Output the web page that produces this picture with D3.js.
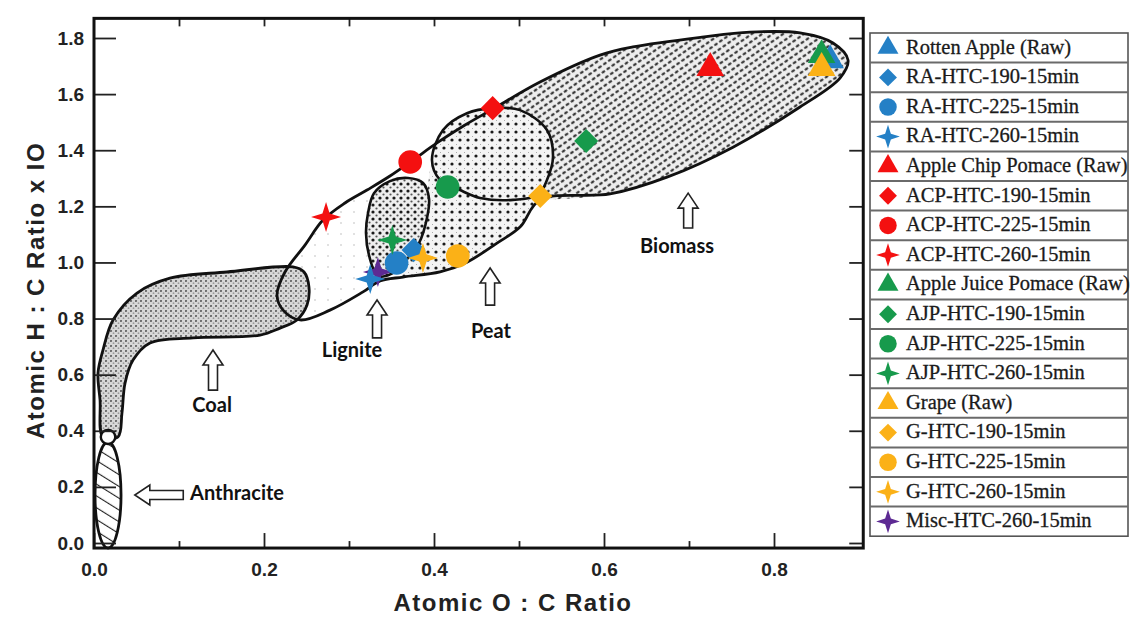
<!DOCTYPE html>
<html>
<head>
<meta charset="utf-8">
<script src="https://cdn.jsdelivr.net/npm/d3@7"></script>
<style>
  body { margin: 0; background: #fff; }
</style>
</head>
<body>
<svg id="chart" width="1132" height="619"></svg>
<script>
// series (O:C, H:C)
const seriesNames = [
  "Rotten Apple (Raw)", "RA-HTC-190-15min", "RA-HTC-225-15min", "RA-HTC-260-15min",
  "Apple Chip Pomace (Raw)", "ACP-HTC-190-15min", "ACP-HTC-225-15min", "ACP-HTC-260-15min",
  "Apple Juice Pomace (Raw)", "AJP-HTC-190-15min", "AJP-HTC-225-15min", "AJP-HTC-260-15min",
  "Grape (Raw)", "G-HTC-190-15min", "G-HTC-225-15min", "G-HTC-260-15min",
  "Misc-HTC-260-15min"
]
const seriesColors = [
  "#2480c6", "#2480c6", "#2480c6", "#2480c6",
  "#f41010", "#f41010", "#f41010", "#f41010",
  "#179a4c", "#179a4c", "#179a4c", "#179a4c",
  "#fbb117", "#fbb117", "#fbb117", "#fbb117",
  "#5d2a93"
]
const seriesShapes = [
  "triangle", "diamond", "circle", "star",
  "triangle", "diamond", "circle", "star",
  "triangle", "diamond", "circle", "star",
  "triangle", "diamond", "circle", "star",
  "star"
]
const ocRatio = [0.866, 0.376, 0.356, 0.325, 0.725, 0.469, 0.372, 0.273, 0.856, 0.579, 0.416, 0.351, 0.856, 0.525, 0.428, 0.387, 0.334]
const hcRatio = [1.721, 1.044, 0.998, 0.941, 1.693, 1.550, 1.358, 1.162, 1.739, 1.433, 1.269, 1.080, 1.693, 1.237, 1.023, 1.016, 0.966]

const xTicks = [0, 0.2, 0.4, 0.6, 0.8]
const yTicks = [0, 0.2, 0.4, 0.6, 0.8, 1.0, 1.2, 1.4, 1.6, 1.8]

// Van Krevelen region outlines, in (O:C, H:C)
const envelopeOutline = [
  [0.2247, 0.966], [0.2482, 1.062], [0.2694, 1.151], [0.2953, 1.212], [0.3212, 1.258],
  [0.3482, 1.308], [0.3753, 1.365], [0.4035, 1.426], [0.4365, 1.490], [0.4694, 1.547],
  [0.5247, 1.643], [0.5953, 1.739], [0.6341, 1.768], [0.7153, 1.803], [0.7718, 1.821],
  [0.8306, 1.818], [0.8694, 1.782], [0.8871, 1.721], [0.8776, 1.657], [0.8306, 1.554],
  [0.7518, 1.411], [0.6741, 1.304], [0.6071, 1.244], [0.5247, 1.223], [0.5012, 1.126],
  [0.4741, 1.069], [0.4388, 1.001], [0.4071, 0.966], [0.3635, 0.948], [0.3365, 0.934],
  [0.3165, 0.895], [0.2776, 0.830], [0.2424, 0.795], [0.2224, 0.830], [0.2153, 0.884]
]
const biomassOutline = [
  [0.4035, 1.401], [0.4365, 1.490], [0.4694, 1.547], [0.5247, 1.643], [0.5953, 1.739],
  [0.6341, 1.768], [0.7153, 1.803], [0.7718, 1.821], [0.8306, 1.818], [0.8694, 1.782],
  [0.8871, 1.721], [0.8776, 1.657], [0.8306, 1.554], [0.7518, 1.411], [0.6741, 1.304],
  [0.6071, 1.244], [0.5247, 1.223], [0.4541, 1.223], [0.4129, 1.276]
]
const peatOutline = [
  [0.3976, 1.365], [0.4106, 1.472], [0.4388, 1.532], [0.4694, 1.550], [0.5012, 1.543],
  [0.5329, 1.472], [0.5400, 1.376], [0.5329, 1.294], [0.5224, 1.237], [0.5012, 1.126],
  [0.4741, 1.069], [0.4388, 1.001], [0.4071, 0.966], [0.3635, 0.952], [0.3482, 0.980],
  [0.3753, 1.044], [0.3859, 1.098], [0.3929, 1.176], [0.3929, 1.258]
]
const peatLoop = [
  [0.3976, 1.365], [0.4106, 1.472], [0.4388, 1.532], [0.4694, 1.550], [0.5012, 1.543],
  [0.5329, 1.472], [0.5400, 1.376], [0.5329, 1.294], [0.5224, 1.241], [0.4929, 1.223],
  [0.4541, 1.230], [0.4306, 1.258], [0.4071, 1.294]
]
const ligniteLoop = [
  [0.3224, 1.176], [0.3294, 1.247], [0.3482, 1.290], [0.3694, 1.301], [0.3871, 1.283],
  [0.3941, 1.228], [0.3918, 1.159], [0.3824, 1.069], [0.3694, 1.016], [0.3541, 0.966],
  [0.3341, 0.952], [0.3235, 1.026], [0.3200, 1.105]
]
const coalOutline = [
  [0.0106, 0.378], [0.0071, 0.510], [0.0047, 0.606], [0.0106, 0.688], [0.0224, 0.795],
  [0.0506, 0.891], [0.0894, 0.944], [0.1565, 0.966], [0.2341, 0.984], [0.2471, 0.966],
  [0.2529, 0.912], [0.2506, 0.848], [0.2388, 0.795], [0.2188, 0.766], [0.1953, 0.741],
  [0.1165, 0.731], [0.0659, 0.713], [0.0459, 0.652], [0.0365, 0.570], [0.0329, 0.463],
  [0.0282, 0.378]
]
const anthracite = { cx: 0.0165, cy: 0.171, rx: 0.0153, ry: 0.189 }
const anthraciteCap = { cx: 0.0165, cy: 0.378, rx: 0.0085, ry: 0.025 }

const regionLabels = ["Biomass", "Peat", "Lignite", "Coal", "Anthracite"]
const labelX = [0.686, 0.467, 0.3035, 0.139, 0.113]
const labelY = [1.051, 0.748, 0.681, 0.485, 0.171]
// arrow tip / tail (up arrows share x; the anthracite one points left)
const arrowTip = [[0.699, 1.247], [0.466, 0.980], [0.333, 0.866], [0.140, 0.688], [0.048, 0.171]]
const arrowTail = [[0.699, 1.123], [0.466, 0.848], [0.333, 0.731], [0.140, 0.545], [0.105, 0.171]]

const svg = d3.select("#chart")

const x = d3.scaleLinear().domain([0, 0.8]).range([94, 774])
const y = d3.scaleLinear().domain([0, 1.8]).range([543, 38])
const frame = { x0: x(0), x1: x(0.905), y0: y(1.87), y1: y(-0.018) }

// ---- patterns
const defs = svg.append("defs")

const pSparse = defs.append("pattern").attr("id", "pSparse")
  .attr("patternUnits", "userSpaceOnUse").attr("width", 13).attr("height", 11)
pSparse.append("rect").attr("width", 13).attr("height", 11).attr("fill", "#fff")
pSparse.append("circle").attr("cx", 3).attr("cy", 3).attr("r", 0.8).attr("fill", "#bbb")

const pBio = defs.append("pattern").attr("id", "pBio")
  .attr("patternUnits", "userSpaceOnUse").attr("width", 6).attr("height", 6)
  .attr("patternTransform", "rotate(-35)")
pBio.append("rect").attr("width", 6).attr("height", 6).attr("fill", "#eeeeee")
pBio.append("ellipse").attr("cx", 3).attr("cy", 3).attr("rx", 2.1).attr("ry", 1.3).attr("fill", "#3a3a3a")

const pPeat = defs.append("pattern").attr("id", "pPeat")
  .attr("patternUnits", "userSpaceOnUse").attr("width", 8).attr("height", 8)
pPeat.append("rect").attr("width", 8).attr("height", 8).attr("fill", "#f4f4f4")
pPeat.append("circle").attr("cx", 4).attr("cy", 4).attr("r", 1.6).attr("fill", "#1a1a1a")
pPeat.append("circle").attr("cx", 0).attr("cy", 0).attr("r", 0.9).attr("fill", "#888")

const pLig = defs.append("pattern").attr("id", "pLig")
  .attr("patternUnits", "userSpaceOnUse").attr("width", 7).attr("height", 7)
pLig.append("rect").attr("width", 7).attr("height", 7).attr("fill", "#eeeeee")
pLig.append("circle").attr("cx", 2).attr("cy", 2).attr("r", 1.6).attr("fill", "#1a1a1a")
pLig.append("circle").attr("cx", 5.5).attr("cy", 5.5).attr("r", 1.1).attr("fill", "#555")

const pCoal = defs.append("pattern").attr("id", "pCoal")
  .attr("patternUnits", "userSpaceOnUse").attr("width", 5).attr("height", 5)
pCoal.append("rect").attr("width", 5).attr("height", 5).attr("fill", "#d8d8d8")
pCoal.append("circle").attr("cx", 1).attr("cy", 1).attr("r", 1.1).attr("fill", "#666")
pCoal.append("circle").attr("cx", 3.5).attr("cy", 3.2).attr("r", 0.9).attr("fill", "#999")

const pHatch = defs.append("pattern").attr("id", "pHatch")
  .attr("patternUnits", "userSpaceOnUse").attr("width", 10).attr("height", 10)
  .attr("patternTransform", "rotate(-58)")
pHatch.append("rect").attr("width", 10).attr("height", 10).attr("fill", "#fff")
pHatch.append("line").attr("x1", 0).attr("y1", 0).attr("x2", 0).attr("y2", 10)
  .attr("stroke", "#222").attr("stroke-width", 2.2)

// ---- regions
const outline = d3.line()
  .x(d => x(d[0]))
  .y(d => y(d[1]))
  .curve(d3.curveCatmullRomClosed.alpha(0.5))

const gRegions = svg.append("g")

gRegions.append("path").attr("d", outline(envelopeOutline)).attr("fill", "url(#pSparse)")
gRegions.append("path").attr("d", outline(biomassOutline)).attr("fill", "url(#pBio)")
gRegions.append("path").attr("d", outline(peatOutline)).attr("fill", "url(#pPeat)")
gRegions.append("path").attr("d", outline(ligniteLoop)).attr("fill", "url(#pLig)")
  .attr("stroke", "#111").attr("stroke-width", 2.6)
gRegions.append("path").attr("d", outline(coalOutline)).attr("fill", "url(#pCoal)")
  .attr("stroke", "#111").attr("stroke-width", 2.8)
gRegions.append("path").attr("d", outline(envelopeOutline)).attr("fill", "none")
  .attr("stroke", "#111").attr("stroke-width", 2.8)
gRegions.append("path").attr("d", outline(peatLoop)).attr("fill", "none")
  .attr("stroke", "#111").attr("stroke-width", 2.6)

gRegions.append("ellipse")
  .attr("cx", x(anthracite.cx)).attr("cy", y(anthracite.cy))
  .attr("rx", x(anthracite.rx) - x(0)).attr("ry", y(0) - y(anthracite.ry))
  .attr("fill", "url(#pHatch)").attr("stroke", "#111").attr("stroke-width", 2.8)
gRegions.append("ellipse")
  .attr("cx", x(anthraciteCap.cx)).attr("cy", y(anthraciteCap.cy))
  .attr("rx", x(anthraciteCap.rx) - x(0)).attr("ry", y(0) - y(anthraciteCap.ry))
  .attr("fill", "#fff").attr("stroke", "#111").attr("stroke-width", 2.4)

// ---- region labels and hollow arrows
function blockArrow(tip, tail) {
  const [tx, ty] = [x(tip[0]), y(tip[1])]
  const [bx, by] = [x(tail[0]), y(tail[1])]
  const len = Math.hypot(tx - bx, ty - by)
  const ang = Math.atan2(ty - by, tx - bx) * 180 / Math.PI
  const head = 15, hw = 10, sw = 4.5
  const pts = [[0, -sw], [len - head, -sw], [len - head, -hw], [len, 0],
               [len - head, hw], [len - head, sw], [0, sw]]
  return { d: "M" + pts.map(p => p.join(",")).join("L") + "Z",
           transform: `translate(${bx},${by}) rotate(${ang})` }
}

const gNotes = svg.append("g")
regionLabels.forEach((name, i) => {
  const a = blockArrow(arrowTip[i], arrowTail[i])
  gNotes.append("path").attr("d", a.d).attr("transform", a.transform)
    .attr("fill", "#fff").attr("stroke", "#222").attr("stroke-width", 1.6)
  gNotes.append("text")
    .attr("x", x(labelX[i])).attr("y", y(labelY[i]))
    .attr("text-anchor", name == "Anthracite" ? "start" : "middle")
    .attr("dominant-baseline", "middle")
    .attr("font-family", "Lato, 'Open Sans', sans-serif")
    .attr("font-weight", "bold").attr("font-size", 20).attr("fill", "#111")
    .text(name)
})

// ---- markers
const symbolSparkle = {
  draw(ctx, size) {
    const r = Math.sqrt(size) * 0.75
    const w = r * 0.24
    ctx.moveTo(0, -r)
    ctx.lineTo(w, -w); ctx.lineTo(r, 0); ctx.lineTo(w, w); ctx.lineTo(0, r)
    ctx.lineTo(-w, w); ctx.lineTo(-r, 0); ctx.lineTo(-w, -w)
    ctx.closePath()
  }
}
const shapeType = { triangle: d3.symbolTriangle, diamond: d3.symbolSquare, circle: d3.symbolCircle, star: symbolSparkle }
const plotSize = { triangle: 330, diamond: 290, circle: 440, star: 400 }
const legendSize = { triangle: 190, diamond: 160, circle: 240, star: 250 }

function markerPath(shape, size) {
  return d3.symbol().type(shapeType[shape]).size(size)()
}

const points = seriesNames.map((name, i) => ({
  name, color: seriesColors[i], shape: seriesShapes[i], oc: ocRatio[i], hc: hcRatio[i], i
}))
// misc drawn underneath the crowded cluster
const drawOrder = [points[16], ...points.slice(0, 16)]

svg.append("g").selectAll("path")
  .data(drawOrder)
  .join("path")
    .attr("d", d => markerPath(d.shape, plotSize[d.shape]))
    .attr("transform", d => `translate(${x(d.oc)},${y(d.hc)})` + (d.shape == "diamond" ? " rotate(45)" : ""))
    .attr("fill", d => d.color)

// ---- axes (ticks point inward)
const tickFont = "'Liberation Sans', Arial, sans-serif"

const axisLeft = svg.append("g")
  .attr("transform", `translate(${frame.x0},0)`)
  .call(d3.axisLeft(y).tickValues(yTicks).tickSize(-22).tickPadding(10).tickFormat(d3.format(".1f")))
axisLeft.select(".domain").remove()

const axisRight = svg.append("g")
  .attr("transform", `translate(${frame.x1},0)`)
  .call(d3.axisRight(y).tickValues(yTicks).tickSize(-14).tickFormat(""))
axisRight.select(".domain").remove()

const axisBottom = svg.append("g")
  .attr("transform", `translate(0,${frame.y1})`)
  .call(d3.axisBottom(x).tickValues(xTicks).tickSize(-15).tickPadding(14).tickFormat(d3.format(".1f")))
axisBottom.select(".domain").remove()

const minorX = [0.1, 0.3, 0.5, 0.7]
const axisBottomMinor = svg.append("g")
  .attr("transform", `translate(0,${frame.y1})`)
  .call(d3.axisBottom(x).tickValues(minorX).tickSize(-7).tickFormat(""))
axisBottomMinor.select(".domain").remove()

const axisTop = svg.append("g")
  .attr("transform", `translate(0,${frame.y0})`)
  .call(d3.axisTop(x).tickValues([0.1, 0.2, 0.3, 0.4, 0.5, 0.6, 0.7, 0.8]).tickSize(-8).tickFormat(""))
axisTop.select(".domain").remove()

svg.selectAll(".tick line").attr("stroke", "#222").attr("stroke-width", 1.8)
svg.selectAll(".tick text")
  .attr("font-family", tickFont).attr("font-weight", "bold")
  .attr("font-size", 19).attr("fill", "#222")

svg.append("rect")
  .attr("x", frame.x0).attr("y", frame.y0)
  .attr("width", frame.x1 - frame.x0).attr("height", frame.y1 - frame.y0)
  .attr("fill", "none").attr("stroke", "#111").attr("stroke-width", 3)

svg.append("text")
  .attr("x", 513).attr("y", 611)
  .attr("text-anchor", "middle")
  .attr("font-family", tickFont).attr("font-weight", "bold")
  .attr("font-size", 24).attr("letter-spacing", 1.5).attr("fill", "#222")
  .text("Atomic O : C Ratio")

svg.append("text")
  .attr("transform", `translate(44,${y(0.9)}) rotate(-90)`)
  .attr("text-anchor", "middle")
  .attr("font-family", tickFont).attr("font-weight", "bold")
  .attr("font-size", 24).attr("letter-spacing", 1.5).attr("fill", "#222")
  .text("Atomic H : C Ratio x IO")

// ---- legend
const legend = { x0: 870, x1: 1128, top: 33, row: 29.6 }
const gLegend = svg.append("g")

gLegend.append("rect")
  .attr("x", legend.x0).attr("y", legend.top)
  .attr("width", legend.x1 - legend.x0).attr("height", legend.row * seriesNames.length)
  .attr("fill", "#fff").attr("stroke", "#555").attr("stroke-width", 1.6)

const rows = gLegend.selectAll("g.row")
  .data(points)
  .join("g")
    .attr("class", "row")
    .attr("transform", (d, i) => `translate(${legend.x0},${legend.top + legend.row * i})`)

rows.filter((d, i) => i > 0).append("line")
  .attr("x1", 0).attr("x2", legend.x1 - legend.x0)
  .attr("y1", 0).attr("y2", 0)
  .attr("stroke", "#6a6a6a").attr("stroke-width", 2)

rows.append("path")
  .attr("d", d => markerPath(d.shape, legendSize[d.shape]))
  .attr("transform", d => `translate(18,${legend.row / 2})` + (d.shape == "diamond" ? " rotate(45)" : ""))
  .attr("fill", d => d.color)

rows.append("text")
  .attr("x", 36).attr("y", legend.row / 2 + 1)
  .attr("dominant-baseline", "middle")
  .attr("font-family", "'Liberation Serif', 'Times New Roman', serif")
  .attr("font-size", 20.5).attr("fill", "#1a1a1a")
  .attr("stroke", "#1a1a1a").attr("stroke-width", 0.3)
  .text(d => d.name)
</script>
</body>
</html>
